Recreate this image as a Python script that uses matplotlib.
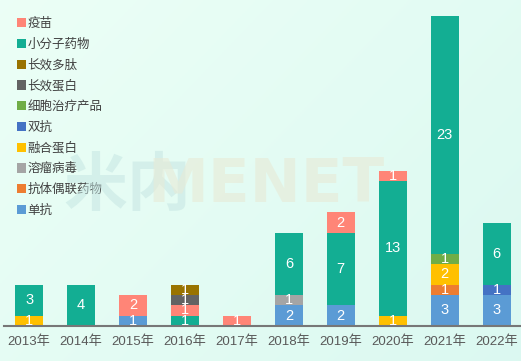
import numpy as np
import matplotlib
matplotlib.use("Agg")
import matplotlib.pyplot as plt

plt.rcParams['font.family'] = ['Noto Sans CJK SC', 'DejaVu Sans']

years = ["2013年", "2014年", "2015年", "2016年", "2017年",
         "2018年", "2019年", "2020年", "2021年", "2022年"]

# stacking order, bottom to top
stack_order = ["单抗", "抗体偶联药物", "溶瘤病毒", "融合蛋白", "双抗",
               "细胞治疗产品", "小分子药物", "疫苗", "长效蛋白", "长效多肽"]
# legend order, top to bottom
legend_order = ["疫苗", "小分子药物", "长效多肽", "长效蛋白", "细胞治疗产品",
                "双抗", "融合蛋白", "溶瘤病毒", "抗体偶联药物", "单抗"]

danKang    = [0, 0, 1, 0, 0, 2, 2, 0, 3, 3]
adc        = [0, 0, 0, 0, 0, 0, 0, 0, 1, 0]
rongLiu    = [0, 0, 0, 0, 0, 1, 0, 0, 0, 0]
ronghe     = [1, 0, 0, 0, 0, 0, 0, 1, 2, 0]
shuangKang = [0, 0, 0, 0, 0, 0, 0, 0, 0, 1]
xibao      = [0, 0, 0, 0, 0, 0, 0, 0, 1, 0]
xiaoFenZi  = [3, 4, 0, 1, 0, 6, 7, 13, 23, 6]
yimiao     = [0, 0, 2, 1, 1, 0, 2, 1, 0, 0]
changDanBai = [0, 0, 0, 1, 0, 0, 0, 0, 0, 0]
changDuoTai = [0, 0, 0, 1, 0, 0, 0, 0, 0, 0]

values = {"单抗": danKang, "抗体偶联药物": adc, "溶瘤病毒": rongLiu,
          "融合蛋白": ronghe, "双抗": shuangKang, "细胞治疗产品": xibao,
          "小分子药物": xiaoFenZi, "疫苗": yimiao, "长效蛋白": changDanBai,
          "长效多肽": changDuoTai}

colors = {"单抗": "#5B9BD5", "抗体偶联药物": "#ED7D31", "溶瘤病毒": "#A5A5A5",
          "融合蛋白": "#FFC000", "双抗": "#4472C4", "细胞治疗产品": "#70AD47",
          "小分子药物": "#13AE93", "疫苗": "#FF8577", "长效蛋白": "#636363",
          "长效多肽": "#997300"}

fig = plt.figure(figsize=(5.21, 3.61), dpi=100)

# gradient background
bg = fig.add_axes([0, 0, 1, 1], zorder=-10)
gx, gy = np.meshgrid(np.linspace(0, 1, 200), np.linspace(0, 1, 200))
t = (gx * 0.6 + gy * 0.4)
c0 = np.array([0.925, 1.0, 0.965])
c1 = np.array([0.86, 0.975, 0.945])
img = c0[None, None, :] * (1 - t[..., None]) + c1[None, None, :] * t[..., None]
bg.imshow(img, aspect="auto", extent=[0, 1, 0, 1], origin="upper")
bg.axis("off")

# watermark
fig.text(0.245, 0.485, "米内", fontsize=46, fontweight="bold", color="#C6E6E3",
         alpha=0.55, ha="center", va="center")
fig.text(0.51, 0.485, "MENET", fontsize=44, fontweight="bold", color="#E8EAD6",
         alpha=0.6, ha="center", va="center", family="DejaVu Sans")

ax = fig.add_axes([0.008, 0.097, 0.992, 0.859])
ax.patch.set_alpha(0)
x = np.arange(len(years))
bottom = np.zeros(len(years))
handles = {}
for name in stack_order:
    v = np.array(values[name])
    bars = ax.bar(x, v, 0.54, bottom=bottom, color=colors[name], label=name)
    handles[name] = bars
    for i in range(len(years)):
        if v[i] > 0:
            ax.text(x[i], bottom[i] + v[i] / 2, str(v[i]), ha="center", va="center",
                    color="white", fontsize=10.5, family="Liberation Sans")
    bottom += v

ax.set_xlim(-0.48, 9.47)
ax.set_ylim(0, 30)
for s in ["top", "right", "left"]:
    ax.spines[s].set_visible(False)
ax.spines["bottom"].set_color("#777777")
ax.spines["bottom"].set_linewidth(1.5)
ax.set_yticks([])
ax.set_xticks(x)
ax.set_xticklabels(years, fontsize=9.5, color="#595959",
                   family=["Liberation Sans", "Noto Sans CJK SC"])
ax.tick_params(axis="x", length=0, pad=7)

leg = ax.legend([handles[n] for n in legend_order], legend_order, loc="upper left",
                bbox_to_anchor=(0.01, 1.02), frameon=False, fontsize=9,
                handlelength=0.75, handleheight=0.75, handletextpad=0.1,
                labelspacing=0.62, borderaxespad=0.2)
for txt in leg.get_texts():
    txt.set_color("#404040")

fig.savefig("out.png", dpi=100)
